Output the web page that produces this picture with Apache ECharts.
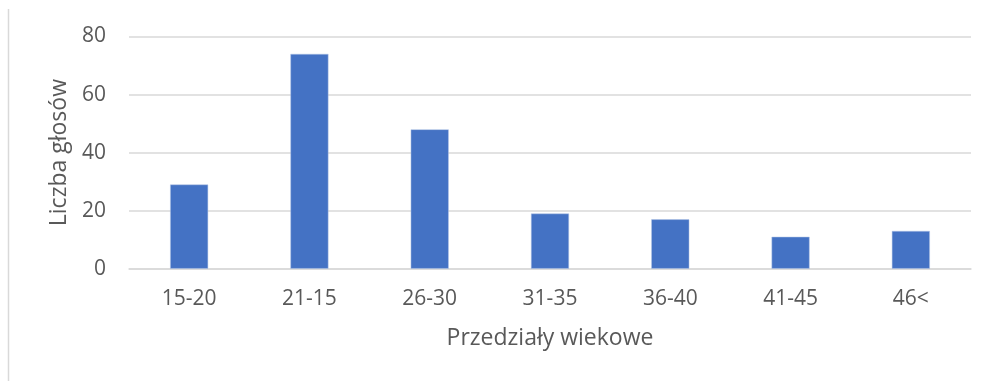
<!DOCTYPE html>
<html>
<head>
<meta charset="utf-8">
<script src="https://cdn.jsdelivr.net/npm/echarts@6/dist/echarts.min.js"></script>
<style>
  html, body { margin: 0; padding: 0; background: #fff; }
  #chart { width: 990px; height: 381px; }
</style>
</head>
<body>
<div id="chart"></div>
<script>
// Age brackets and number of votes in each
const categories = ['15-20', '21-15', '26-30', '31-35', '36-40', '41-45', '46<'];
const votes = [29, 74, 48, 19, 17, 11, 13];
const yTicks = [0, 20, 40, 60, 80];

const textColor = '#595959';
const fontFamily = '"Open Sans", "Noto Sans", sans-serif';

const chart = echarts.init(document.getElementById('chart'));
chart.setOption({
  animation: false,
  backgroundColor: '#ffffff',
  graphic: [{
    type: 'line',
    shape: { x1: 8.5, y1: 9, x2: 8.5, y2: 381 },
    style: { stroke: '#d9d9d9', lineWidth: 1.5 }
  }],
  grid: { left: 129, right: 19, top: 36.5, bottom: 112.3 },
  xAxis: {
    type: 'category',
    data: categories,
    name: 'Przedziały wiekowe',
    nameLocation: 'middle',
    nameMoveOverlap: false,
    nameGap: 58,
    nameTextStyle: { color: textColor, fontSize: 23, fontFamily },
    axisLine: { show: true, lineStyle: { color: '#d9d9d9', width: 1.5 } },
    axisTick: { show: false },
    axisLabel: { color: textColor, fontSize: 21, fontFamily, margin: 20 }
  },
  yAxis: {
    type: 'value',
    min: yTicks[0],
    max: yTicks[yTicks.length - 1],
    interval: 20,
    name: 'Liczba głosów',
    nameLocation: 'middle',
    nameMoveOverlap: false,
    nameGap: 58,
    nameTextStyle: { color: textColor, fontSize: 23, fontFamily },
    axisLine: { show: false },
    axisTick: { show: false },
    axisLabel: { color: textColor, fontSize: 21, fontFamily, margin: 23 },
    splitLine: { lineStyle: { color: '#d9d9d9', width: 1.5 } }
  },
  series: [{
    type: 'bar',
    data: votes,
    barWidth: 38,
    itemStyle: { color: '#4472c4', borderColor: '#b4c7e7', borderWidth: 0.5 }
  }]
});
</script>
</body>
</html>
